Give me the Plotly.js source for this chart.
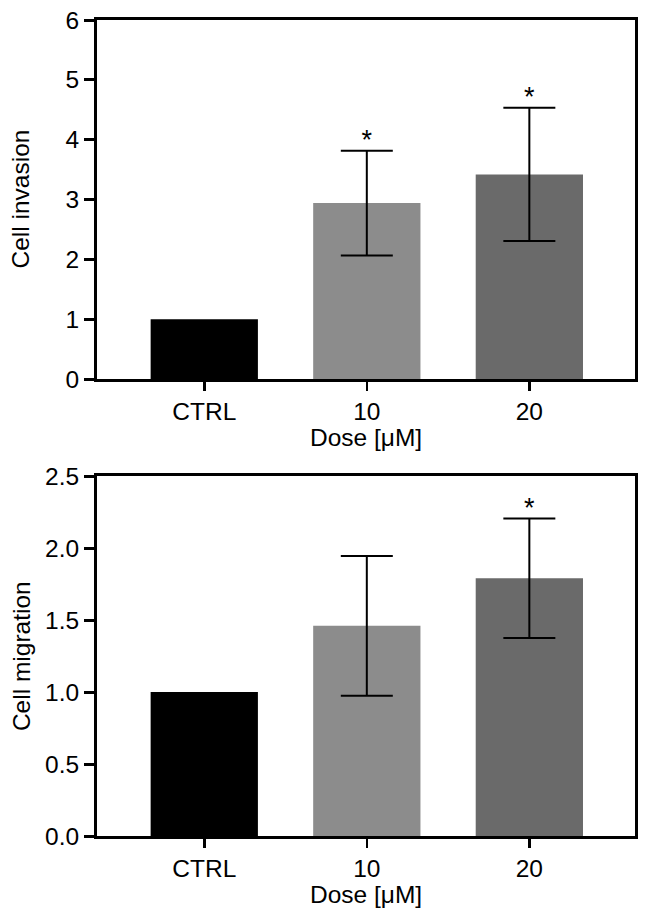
<!DOCTYPE html>
<html>
<head>
<meta charset="utf-8">
<script src="https://cdn.plot.ly/plotly-3.0.1.min.js"></script>
<style>html,body{margin:0;padding:0;background:#fff;}#chart{width:646px;height:913px;}</style>
</head>
<body>
<div id="chart"></div>
<script>
// Data
const categories = ['CTRL', '10', '20'];
const barColors = ['#000000', '#8c8c8c', '#6a6a6a'];

const invasionMean = [1.0, 2.94, 3.42];
const invasionErr = [null, 0.875, 1.115];
const invasionSig = ['', '*', '*'];

const migrationMean = [1.0, 1.46, 1.79];
const migrationErr = [null, 0.485, 0.415];
const migrationSig = ['', '', '*'];

const xTitle = 'Dose [μM]';
const yTitleTop = 'Cell invasion';
const yTitleBottom = 'Cell migration';

const FONT = 'Liberation Sans, Arial, Helvetica, sans-serif';
const FS = 24.5;

function barTraces(means, errs, xa, ya) {
  return categories.map((c, i) => {
    const t = {
      type: 'bar', x: [c], y: [means[i]], xaxis: xa, yaxis: ya,
      width: 0.66,
      marker: {color: barColors[i], line: {width: 0}},
      showlegend: false, hoverinfo: 'skip'
    };
    if (errs[i] != null) {
      t.error_y = {type: 'data', array: [errs[i]], visible: true, color: '#000', thickness: 2, width: 26};
    }
    return t;
  });
}
function sigTrace(means, errs, sig, offset, xa, ya) {
  const xs = [], ys = [], ts = [];
  for (let i = 0; i < categories.length; i++) {
    if (sig[i]) { xs.push(categories[i]); ys.push(means[i] + (errs[i] || 0) + offset); ts.push(sig[i]); }
  }
  return {
    type: 'scatter', mode: 'text', x: xs, y: ys, text: ts, xaxis: xa, yaxis: ya,
    textfont: {family: FONT, size: 27, color: '#000'}, textposition: 'middle center',
    showlegend: false, hoverinfo: 'skip', cliponaxis: false
  };
}

const data = [].concat(
  barTraces(invasionMean, invasionErr, 'x', 'y'),
  [sigTrace(invasionMean, invasionErr, invasionSig, 0.14, 'x', 'y')],
  barTraces(migrationMean, migrationErr, 'x2', 'y2'),
  [sigTrace(migrationMean, migrationErr, migrationSig, 0.058, 'x2', 'y2')]
);

function xAxis(anchor) {
  return {
    anchor: anchor, type: 'category', range: [-0.66, 2.65],
    showline: true, linewidth: 3, linecolor: '#000', mirror: true,
    ticks: 'outside', ticklen: 9, tickwidth: 2.5, tickcolor: '#000',
    showgrid: false, zeroline: false,
    tickfont: {family: FONT, size: FS, color: '#000'}
  };
}
function yAxis(domain, range, dtick, fmt, anchor) {
  return {
    anchor: anchor, domain: domain, range: range, dtick: dtick, tick0: 0, tickformat: fmt,
    showline: true, linewidth: 3, linecolor: '#000', mirror: true,
    ticks: 'outside', ticklen: 10, tickwidth: 3, tickcolor: '#000',
    showgrid: false, zeroline: false,
    tickfont: {family: FONT, size: FS, color: '#000'}
  };
}

const L = 97, R = 11;
const plotW = 646 - L - R;
function titleAnnots(xa, ya, ytext) {
  return [
    {text: xTitle, xref: xa + ' domain', yref: ya + ' domain', x: 0.5, y: 0, yshift: -58,
     xanchor: 'center', yanchor: 'middle', showarrow: false, font: {family: FONT, size: FS, color: '#000'}},
    {text: ytext, xref: 'paper', yref: ya + ' domain', x: (21 - L) / plotW, y: 0.5, textangle: -90,
     xanchor: 'center', yanchor: 'middle', showarrow: false, font: {family: FONT, size: FS, color: '#000'}}
  ];
}

const layout = {
  width: 646, height: 913,
  margin: {l: L, r: R, t: 20, b: 77},
  paper_bgcolor: '#fff', plot_bgcolor: '#fff',
  font: {family: FONT, color: '#000'},
  xaxis: xAxis('y'),
  yaxis: yAxis([0.560, 1.0], [0, 6], 1, 'd', 'x'),
  xaxis2: xAxis('y2'),
  yaxis2: yAxis([0, 0.441], [0, 2.5], 0.5, '.1f', 'x2'),
  annotations: titleAnnots('x', 'y', yTitleTop).concat(titleAnnots('x2', 'y2', yTitleBottom)),
  barmode: 'overlay'
};

Plotly.newPlot('chart', data, layout, {displayModeBar: false, staticPlot: true});
</script>
</body>
</html>
